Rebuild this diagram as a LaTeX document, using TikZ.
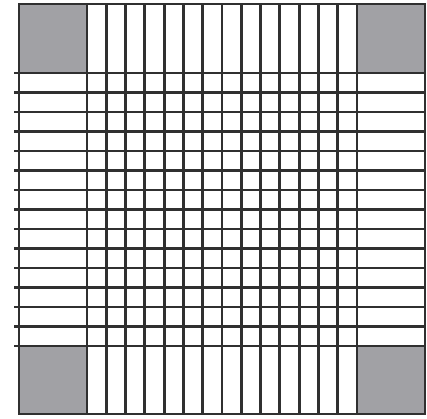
\documentclass[tikz,border=0pt]{standalone}
\definecolor{cornergray}{RGB}{161,161,165}
\definecolor{linegray}{RGB}{48,48,48}
\tikzset{gridline/.style={draw=linegray,line width=2.8pt},
  corner/.style={fill=cornergray,draw=linegray,line width=2.8pt}}
\begin{document}
\begin{tikzpicture}[x=1pt,y=-1pt]
\useasboundingbox (0,0) rectangle (427,418);
% corner squares
\path[corner] (19,4) rectangle (87,73);
\path[corner] (357,4) rectangle (425,73);
\path[corner] (19,346) rectangle (87,414);
\path[corner] (357,346) rectangle (425,414);
% vertical lines
\foreach \i in {0,...,14}{
  \path[gridline] ({87+\i*270/14},4) -- ({87+\i*270/14},414);
}
% horizontal lines
\foreach \j in {0,...,14}{
  \path[gridline] (14,{73+\j*273/14}) -- (425,{73+\j*273/14});
}
% outer border
\path[gridline] (19,4) rectangle (425,414);
\end{tikzpicture}
\end{document}
